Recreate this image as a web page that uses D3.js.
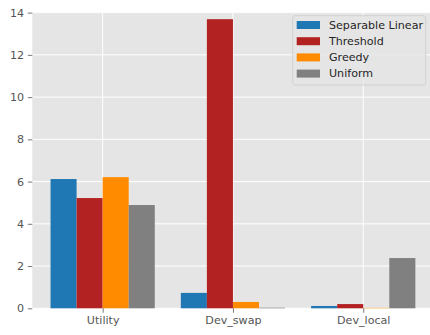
<!DOCTYPE html>
<html>
<head>
<meta charset="utf-8">
<script src="https://cdn.jsdelivr.net/npm/d3@7"></script>
<style>
  body { margin: 0; background: #fff; }
  svg { display: block; }
</style>
</head>
<body>
<div id="chart"></div>
<script>
var categories = ["Utility", "Dev_swap", "Dev_local"];
var seriesNames = ["Separable Linear", "Threshold", "Greedy", "Uniform"];
var seriesColors = ["#1f77b4", "#b22222", "#ff8c00", "#808080"];
var sepLinear = [6.12, 0.73, 0.11];
var threshold = [5.22, 13.69, 0.2];
var greedy = [6.21, 0.3, 0.02];
var uniform = [4.89, 0.03, 2.38];
var yTicks = [0, 2, 4, 6, 8, 10, 12, 14];

var seriesValues = [sepLinear, threshold, greedy, uniform];

var w = 430, h = 335;
var barW = 0.2;
var font = "DejaVu Sans";
var fs = 11.1;

var svg = d3.select("#chart").append("svg")
    .attr("width", w)
    .attr("height", h)
    .attr("font-family", font);

// category index -> pixel, matplotlib style margins
var x = d3.scaleLinear()
    .domain([-0.54, 2.54])
    .range([32.3, 433.6]);

var y = d3.scaleLinear()
    .domain([0, 14.03])
    .range([308.3, 12]);

// axes background
svg.append("rect")
    .attr("x", x(-0.54))
    .attr("y", y(14.03))
    .attr("width", x(2.54) - x(-0.54))
    .attr("height", y(0) - y(14.03))
    .attr("fill", "#e5e5e5");

// grid
svg.append("g").selectAll("line")
    .data(yTicks)
    .enter().append("line")
    .attr("x1", x(-0.54)).attr("x2", x(2.54))
    .attr("y1", function(d) { return y(d); })
    .attr("y2", function(d) { return y(d); })
    .attr("stroke", "#fff")
    .attr("stroke-width", 1);

svg.append("g").selectAll("line")
    .data(categories)
    .enter().append("line")
    .attr("x1", function(d, i) { return x(i); })
    .attr("x2", function(d, i) { return x(i); })
    .attr("y1", y(0)).attr("y2", y(14.03))
    .attr("stroke", "#fff")
    .attr("stroke-width", 1);

// bars
seriesValues.forEach(function(vals, s) {
    var off = -0.3 + s * 0.2;
    svg.append("g").selectAll("rect")
        .data(vals)
        .enter().append("rect")
        .attr("x", function(d, i) { return x(i + off - barW / 2); })
        .attr("width", x(barW) - x(0))
        .attr("y", function(d) { return y(d); })
        .attr("height", function(d) { return y(0) - y(d); })
        .attr("fill", seriesColors[s]);
});

// y axis
var yAxis = d3.axisLeft(y)
    .tickValues(yTicks)
    .tickSize(4.5)
    .tickPadding(3.8);

var yg = svg.append("g")
    .attr("transform", "translate(" + x(-0.54) + ",0)")
    .call(yAxis)
    .attr("font-family", font)
    .attr("font-size", fs);
yg.select(".domain").remove();
yg.selectAll("line").attr("stroke", "#555").attr("stroke-width", 0.8);
yg.selectAll("text").attr("fill", "#555");

// x axis
var xAxis = d3.axisBottom(x)
    .tickValues([0, 1, 2])
    .tickFormat(function(d) { return categories[d]; })
    .tickSize(4.5)
    .tickPadding(3.8);

var xg = svg.append("g")
    .attr("transform", "translate(0," + y(0) + ")")
    .call(xAxis)
    .attr("font-family", font)
    .attr("font-size", fs);
xg.select(".domain").remove();
xg.selectAll("line").attr("stroke", "#555").attr("stroke-width", 0.8);
xg.selectAll("text").attr("fill", "#555");

// legend
var legend = svg.append("g").attr("transform", "translate(292.7,15.7)");
legend.append("rect")
    .attr("width", 133)
    .attr("height", 69.3)
    .attr("rx", 2.5)
    .attr("fill", "#e5e5e5")
    .attr("fill-opacity", 0.8)
    .attr("stroke", "#cccccc")
    .attr("stroke-width", 0.8);

var items = legend.selectAll("g.item")
    .data(seriesNames)
    .enter().append("g")
    .attr("class", "item")
    .attr("transform", function(d, i) { return "translate(0," + (9.3 + i * 16.2) + ")"; });

items.append("rect")
    .attr("x", 4)
    .attr("y", -4)
    .attr("width", 23.3)
    .attr("height", 8)
    .attr("fill", function(d, i) { return seriesColors[i]; });

items.append("text")
    .attr("x", 36.3)
    .attr("dy", "0.35em")
    .attr("font-size", fs)
    .attr("fill", "#262626")
    .text(function(d) { return d; });
</script>
</body>
</html>
